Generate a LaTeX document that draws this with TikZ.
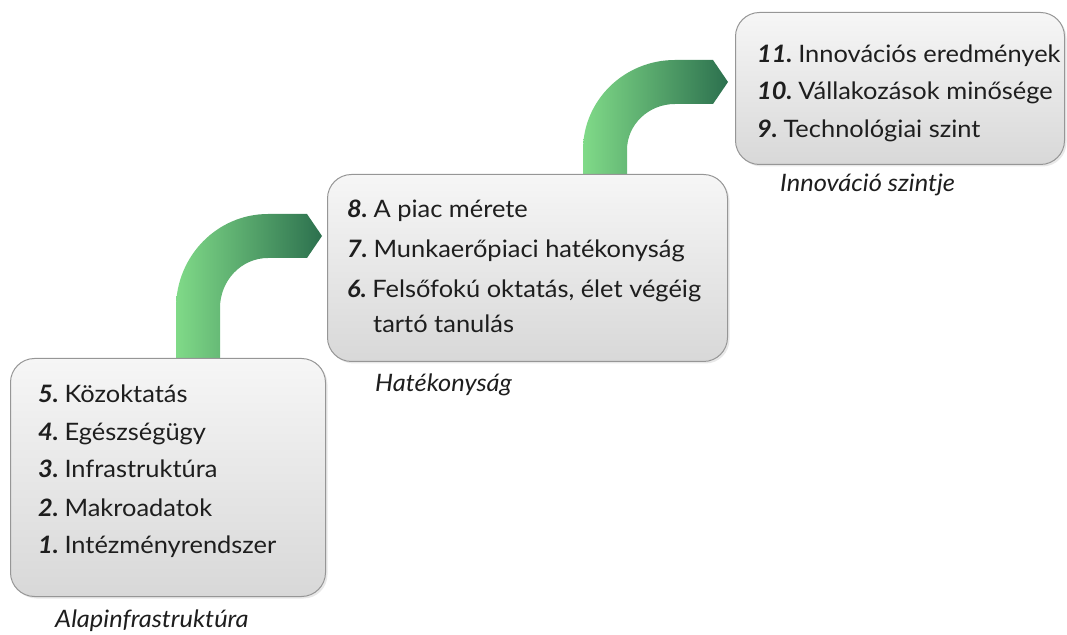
\documentclass[tikz,border=0pt]{standalone}
\usepackage{fontspec}
\setmainfont{Lato}
\newfontfamily\stretchfont{Lato}[FakeStretch=1.06]
\usetikzlibrary{shadows}
\definecolor{gLight}{RGB}{128,218,136}
\definecolor{gDark}{RGB}{44,112,78}
\definecolor{boxTop}{RGB}{246,246,246}
\definecolor{boxBot}{RGB}{216,216,216}
\definecolor{boxLine}{RGB}{150,150,150}
\definecolor{txt}{RGB}{30,30,30}
\tikzset{
  stepbox/.style={draw=boxLine, line width=1pt, rounded corners=24pt,
    top color=boxTop, bottom color=boxBot,
    drop shadow={opacity=0.18, shadow xshift=2pt, shadow yshift=-2pt}},
  item/.style={anchor=base west, inner sep=0pt, text=txt,
    font=\stretchfont\fontsize{24}{28}\selectfont},
  lvl/.style={anchor=base west, inner sep=0pt, text=txt,
    font=\stretchfont\fontsize{24}{28}\selectfont\itshape},
  arrowband/.style={left color=gLight, right color=gDark, draw=none}
}
\newcommand{\num}[1]{\textbf{\textit{#1}}\hspace{5.5pt}}
\begin{document}
\begin{tikzpicture}[x=1pt,y=1pt]
\useasboundingbox (0,0) rectangle (1067,634);
% arrows
\shade[arrowband] (176,270) -- (176,326)
  arc[start angle=180,end angle=90,x radius=92pt,y radius=94pt]
  -- (307,420) -- (322,398) -- (307,376) -- (268,376)
  arc[start angle=90,end angle=180,x radius=48pt,y radius=50pt]
  -- (220,270) -- cycle;
\shade[arrowband] (583,455) -- (583,484)
  arc[start angle=180,end angle=90,x radius=92pt,y radius=90pt]
  -- (713,574) -- (728,552) -- (713,530) -- (675,530)
  arc[start angle=90,end angle=180,x radius=48pt,y radius=46pt]
  -- (627,455) -- cycle;
% boxes
\node[stepbox, minimum width=315pt, minimum height=238pt, anchor=south west] (b1) at (10,37) {};
\node[stepbox, minimum width=400pt, minimum height=187pt, anchor=south west] (b2) at (327,272) {};
\node[stepbox, minimum width=329pt, minimum height=152pt, anchor=south west] (b3) at (735,469) {};
% box 1 text
\node[item] (i5) at (38,231) {\num{5.}Közoktatás};
\node[item] (i4) at (38,193) {\num{4.}Egészségügy};
\node[item] (i3) at (38,156) {\num{3.}Infrastruktúra};
\node[item] (i2) at (38,117) {\num{2.}Makroadatok};
\node[item] (i1) at (38,80) {\num{1.}Intézményrendszer};
\node[lvl] (l1) at (55,7) {Alapinfrastruktúra};
% box 2 text
\node[item] (i8) at (347,416) {\num{8.}A piac mérete};
\node[item] (i7) at (347,376) {\num{7.}Munkaerőpiaci hatékonyság};
\node[item] (i6) at (347,336) {\num{6.}Felsőfokú oktatás, élet végéig};
\node[item] (i6b) at (373,301) {tartó tanulás};
\node[lvl] (l2) at (375,242) {Hatékonyság};
% box 3 text
\node[item] (i11) at (757,571) {\num{11.}Innovációs eredmények};
\node[item] (i10) at (757,534) {\num{10.}Vállakozások minősége};
\node[item] (i9) at (757,496) {\num{9.}Technológiai szint};
\node[lvl] (l3) at (780,442) {Innováció szintje};
\end{tikzpicture}
\end{document}
